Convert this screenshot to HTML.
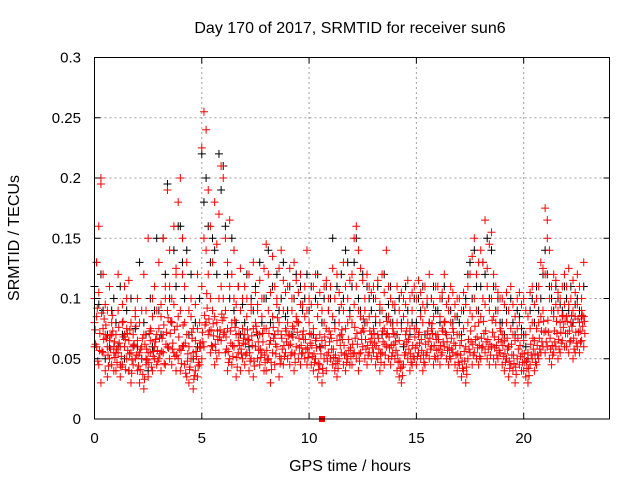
<!DOCTYPE html>
<html><head><meta charset="utf-8">
<style>
html,body{margin:0;padding:0;background:#fff;}
svg{display:block;font-family:"Liberation Sans",sans-serif;}
</style></head>
<body>
<svg id="chart" width="640" height="480" viewBox="0 0 640 480">
<text x="350" y="33" font-size="16" text-anchor="middle" fill="#000">Day 170 of 2017, SRMTID for receiver sun6</text>
<text transform="translate(19,238) rotate(-90)" font-size="16" text-anchor="middle" fill="#000">SRMTID / TECUs</text>
<text x="350" y="471" font-size="16" text-anchor="middle" fill="#000">GPS time / hours</text>
<g id="grid"></g>
<g id="pts"></g>
<rect x="94.5" y="57.5" width="515" height="361.5" fill="none" stroke="#000" stroke-width="1"/>
<g id="ticks"></g>
</svg>
<script>
const xTicks=[0,5,10,15,20];
const xTickLabels=["0","5","10","15","20"];
const yTicks=[0,0.05,0.1,0.15,0.2,0.25,0.3];
const yTickLabels=["0","0.05","0.1","0.15","0.2","0.25","0.3"];
const times=[0.0,0.1,0.2,0.3,0.4,0.5,0.6,0.7,0.8,0.9,1.0,1.1,1.2,1.3,1.4,1.5,1.6,1.7,1.8,1.9,2.0,2.1,2.2,2.3,2.4,2.5,2.6,2.7,2.8,2.9,3.0,3.1,3.2,3.3,3.4,3.5,3.6,3.7,3.8,3.9,4.0,4.1,4.2,4.3,4.4,4.5,4.6,4.7,4.8,4.9,5.0,5.1,5.2,5.3,5.4,5.5,5.6,5.7,5.8,5.9,6.0,6.1,6.2,6.3,6.4,6.5,6.6,6.7,6.8,6.9,7.0,7.1,7.2,7.3,7.4,7.5,7.6,7.7,7.8,7.9,8.0,8.1,8.2,8.3,8.4,8.5,8.6,8.7,8.8,8.9,9.0,9.1,9.2,9.3,9.4,9.5,9.6,9.7,9.8,9.9,10.0,10.1,10.2,10.3,10.4,10.5,10.6,10.7,10.8,10.9,11.0,11.1,11.2,11.3,11.4,11.5,11.6,11.7,11.8,11.9,12.0,12.1,12.2,12.3,12.4,12.5,12.6,12.7,12.8,12.9,13.0,13.1,13.2,13.3,13.4,13.5,13.6,13.7,13.8,13.9,14.0,14.1,14.2,14.3,14.4,14.5,14.6,14.7,14.8,14.9,15.0,15.1,15.2,15.3,15.4,15.5,15.6,15.7,15.8,15.9,16.0,16.1,16.2,16.3,16.4,16.5,16.6,16.7,16.8,16.9,17.0,17.1,17.2,17.3,17.4,17.5,17.6,17.7,17.8,17.9,18.0,18.1,18.2,18.3,18.4,18.5,18.6,18.7,18.8,18.9,19.0,19.1,19.2,19.3,19.4,19.5,19.6,19.7,19.8,19.9,20.0,20.1,20.2,20.3,20.4,20.5,20.6,20.7,20.8,20.9,21.0,21.1,21.2,21.3,21.4,21.5,21.6,21.7,21.8,21.9,22.0,22.1,22.2,22.3,22.4,22.5,22.6,22.7,22.8];
// values in milli-TECU
const redA=[80,60,45,30,55,40,35,50,45,60, 40,55,35,45,60,50,40,30,45,50, 40,30,50,25,45,35,55,40,50,45, 50,40,55,45,60,50,45,55,40,50, 40,60,45,35,30,50,25,40,35,45, 50,60,80,70,55,60,45,50,55,65, 70,55,40,50,45,60,35,55,40,50, 45,55,40,50,35,60,50,45,55,40, 40,50,30,55,45,60,35,50,45,55, 50,45,55,40,60,50,45,55,50,45, 55,45,40,50,35,45,30,50,40,55, 50,45,40,35,50,55,45,40,50,45, 45,55,50,40,55,60,50,45,55,50, 55,45,50,40,55,45,60,50,45,55, 50,40,35,30,45,55,50,40,45,50, 45,55,50,40,45,55,50,60,45,50, 50,45,55,60,50,45,50,55,45,40, 45,35,40,30,50,55,45,55,50,45, 50,60,55,50,45,60,50,45,50,55, 45,40,50,35,45,40,30,50,45,40, 40,35,30,45,50,40,45,50,55,60, 55,60,50,45,55,60,50,55,65,60, 60,55,65,50,55,60,55,65,60];
const redB=[100,130,160,200,120,70,90,65,80,55, 70,90,60,80,110,75,65,55,70,85, 65,80,60,70,90,55,75,85,60,70, 75,85,70,100,90,110,80,95,120,85, 90,120,80,70,60,85,55,65,75,60, 110,150,140,120,100,90,85,80,100,110, 100,90,75,110,80,100,70,65,90,75, 70,85,65,90,75,80,95,70,85,75, 75,90,65,85,70,95,80,70,90,75, 80,70,90,75,85,80,95,70,85,90, 80,70,75,65,85,70,65,80,75,90, 70,85,75,65,80,70,90,75,80,85, 80,95,110,90,85,75,90,80,85,70, 75,85,70,80,90,75,70,85,80,75, 70,80,65,75,85,70,80,75,90,75, 75,70,85,80,90,70,80,75,85,70, 70,85,75,80,70,90,80,75,85,70, 70,65,75,60,80,90,85,100,90,80, 85,100,95,110,90,100,85,80,90,75, 70,65,80,60,75,70,65,75,80,70, 65,70,55,75,80,65,75,80,85,90, 120,150,100,90,85,95,90,80,85,95, 85,95,80,90,85,95,80,90,85];
const redC=[60,85,105,195,75,95,60,110,70,40, 55,120,45,95,70,100,115,80,60,90, 100,55,90,120,50,150,65,100,110,90, 130,95,150,110,190,140,100,160,125,180, 200,150,110,130,90,100,75,95,120,80, 225,255,240,190,160,130,180,145,170,210, 200,150,130,165,120,140,95,110,125,100, 110,100,120,95,130,105,90,115,100,125, 145,120,105,135,110,100,125,140,115,105, 110,125,100,130,115,105,120,95,110,140, 100,95,110,120,95,105,90,110,115,100, 110,125,100,120,105,95,130,110,100,115, 120,150,160,140,125,115,100,120,110,105, 110,100,115,95,120,105,140,110,100,95, 95,110,90,105,100,95,115,100,105,110, 100,115,105,95,110,100,120,100,95,110, 110,100,105,120,95,100,110,105,95,100, 100,90,105,95,110,120,135,150,120,130, 140,130,165,125,145,155,120,110,105,100, 100,95,105,90,110,95,85,100,105,95, 100,90,85,105,110,95,100,110,130,125, 175,165,140,110,120,115,105,100,110,120, 110,125,100,115,105,120,110,100,130];
const redD=[62,48,71,56,83,67,44,58,73,51, 47,63,52,68,41,57,74,49,61,53, 44,58,37,62,49,71,43,56,66,48, 54,67,46,72,59,81,63,52,77,58, 46,61,38,54,43,67,36,52,47,59, 64,78,92,73,61,69,57,66,74,82, 72,58,47,63,52,76,43,61,54,67, 53,66,48,61,44,72,57,51,64,47, 49,62,41,67,54,73,46,58,52,64, 61,53,68,47,72,59,54,66,58,51, 63,52,47,59,41,54,38,61,48,64, 58,51,46,42,61,66,53,47,57,52, 54,67,62,48,66,73,58,53,64,59, 63,52,58,47,64,53,71,59,52,62, 57,47,42,36,53,64,58,47,52,59, 52,63,57,47,53,64,58,71,52,57, 58,53,64,72,57,52,58,63,53,47, 53,42,48,37,58,64,53,66,59,52, 59,71,64,58,53,72,59,53,57,64, 52,47,58,42,53,46,37,58,52,47, 47,42,36,53,58,47,53,58,64,72, 64,72,58,53,64,71,58,63,76,71, 71,64,77,58,63,72,64,77,71];
const redE=[74,92,57,88,66,78,53,69,86,64, 58,76,43,81,66,71,54,38,62,77, 53,41,67,33,58,47,73,52,64,57, 67,56,78,62,84,71,58,74,53,68, 57,78,63,48,41,72,33,56,44,63, 72,86,104,83,74,79,62,73,68,87, 84,68,56,73,61,82,51,71,58,63, 62,74,55,69,48,77,64,58,71,53, 57,71,47,76,62,84,52,67,61,73, 69,62,77,54,81,67,61,73,66,59, 71,61,54,67,46,59,42,68,53,73, 67,58,53,48,69,74,61,54,66,59, 62,76,71,54,72,83,66,61,73,67, 71,61,67,54,73,62,81,68,61,71, 64,53,48,43,62,73,66,54,61,68, 61,72,66,53,62,73,67,79,61,66, 66,61,73,81,64,59,67,72,61,54, 61,48,56,43,66,73,62,77,68,61, 67,81,73,66,62,82,68,61,66,73, 61,54,67,48,62,53,43,67,61,54, 54,48,42,62,67,54,61,67,73,81, 73,82,67,61,73,81,66,72,86,81, 81,73,86,67,72,83,73,86,81];
const blackK=[110,130,95,120,90,50,70,60,90,100, 80,60,110,70,50,90,40,100,60,75, 60,130,50,80,70,40,100,60,90,150, 90,70,150,120,195,100,80,140,110,160, 160,130,100,140,70,120,50,80,60,100, 220,180,200,160,130,150,140,120,220,190, 210,160,120,100,150,90,80,110,70,95, 80,120,60,100,90,110,70,130,80,100, 100,140,80,110,70,120,90,100,130,85, 90,110,70,100,120,80,110,90,100,120, 90,110,70,100,120,60,80,100,110,90, 100,150,80,110,90,120,100,140,130,90, 110,130,150,100,90,120,80,110,100,90, 100,80,110,90,70,120,85,95,110,80, 90,70,100,80,60,110,90,70,80,100, 80,100,90,110,70,95,80,100,110,90, 90,80,100,110,70,100,90,80,95,85, 80,70,90,100,120,130,100,140,110,90, 110,130,120,150,100,140,110,90,100,80, 80,70,90,60,100,80,70,90,85,75, 70,60,50,90,100,80,110,90,100,120, 140,120,110,100,90,110,100,95,90,110, 100,90,110,80,95,100,90,85,110];
const zeroT=[10.6];
const zeroV=[0];

const NS="http://www.w3.org/2000/svg";
const X0=94.5,X1=609.5,Y0=419,Y1=57.5;
function sx(t){return X0+(t/24)*(X1-X0);}
function sy(v){return Y0-(v/0.3)*(Y0-Y1);}
const grid=document.getElementById('grid'),ticks=document.getElementById('ticks'),pts=document.getElementById('pts');
function mk(tag,attrs,parent){const e=document.createElementNS(NS,tag);for(const k in attrs)e.setAttribute(k,attrs[k]);parent.appendChild(e);return e;}
xTicks.forEach((t,i)=>{
  const x=sx(t);
  if(t>0){const g=mk('line',{x1:x,x2:x,y1:Y0,y2:Y1,stroke:'#a0a0a0','stroke-width':1,'stroke-dasharray':'2,3'},grid);
  
  }
  const a=mk('line',{x1:x,x2:x,y1:Y0,y2:Y0-6,stroke:'#000'},ticks);
  
  
  const b=mk('line',{x1:x,x2:x,y1:Y1,y2:Y1+6,stroke:'#000'},ticks);
  
  
  const l=mk('text',{x:x,y:443,'font-size':15,'text-anchor':'middle',fill:'#000'},ticks);
  l.textContent=xTickLabels[i];
  
  
});
yTicks.forEach((v,i)=>{
  const y=sy(v);
  if(v>0&&v<0.3){const g=mk('line',{x1:X0,x2:X1,y1:y,y2:y,stroke:'#a0a0a0','stroke-width':1,'stroke-dasharray':'2,3'},grid);
  
  }
  const a=mk('line',{x1:X0,x2:X0+6,y1:y,y2:y,stroke:'#000'},ticks);
  
  
  const b=mk('line',{x1:X1,x2:X1-6,y1:y,y2:y,stroke:'#000'},ticks);
  
  
  const l=mk('text',{x:81,y:y+5,'font-size':15,'text-anchor':'end',fill:'#000'},ticks);
  l.textContent=yTickLabels[i];
  
  
});
function plus(t,v,color,name){
  const x=sx(t),y=sy(v);
  const p=mk('path',{d:`M${x-4},${y}h8M${x},${y-4}v8`,stroke:color,'stroke-width':1,fill:'none'},pts);
  
  
}
times.forEach((t,i)=>{plus(t,blackK[i]/1000,'#000','black-point');});
[redA,redB,redC].forEach(s=>{times.forEach((t,i)=>{plus(t,s[i]/1000,'#ff0000','red-point');});});
times.forEach((t,i)=>{plus(t+0.05,redD[i]/1000,'#ff0000','red-point');});
times.forEach((t,i)=>{plus(t+0.03,redE[i]/1000,'#ff0000','red-point');});
zeroT.forEach((t,i)=>{
  const r=mk('rect',{x:sx(t)-3,y:sy(zeroV[i])-3,width:6,height:6,fill:'#ff0000'},pts);
  
  
});
</script>
</body></html>
